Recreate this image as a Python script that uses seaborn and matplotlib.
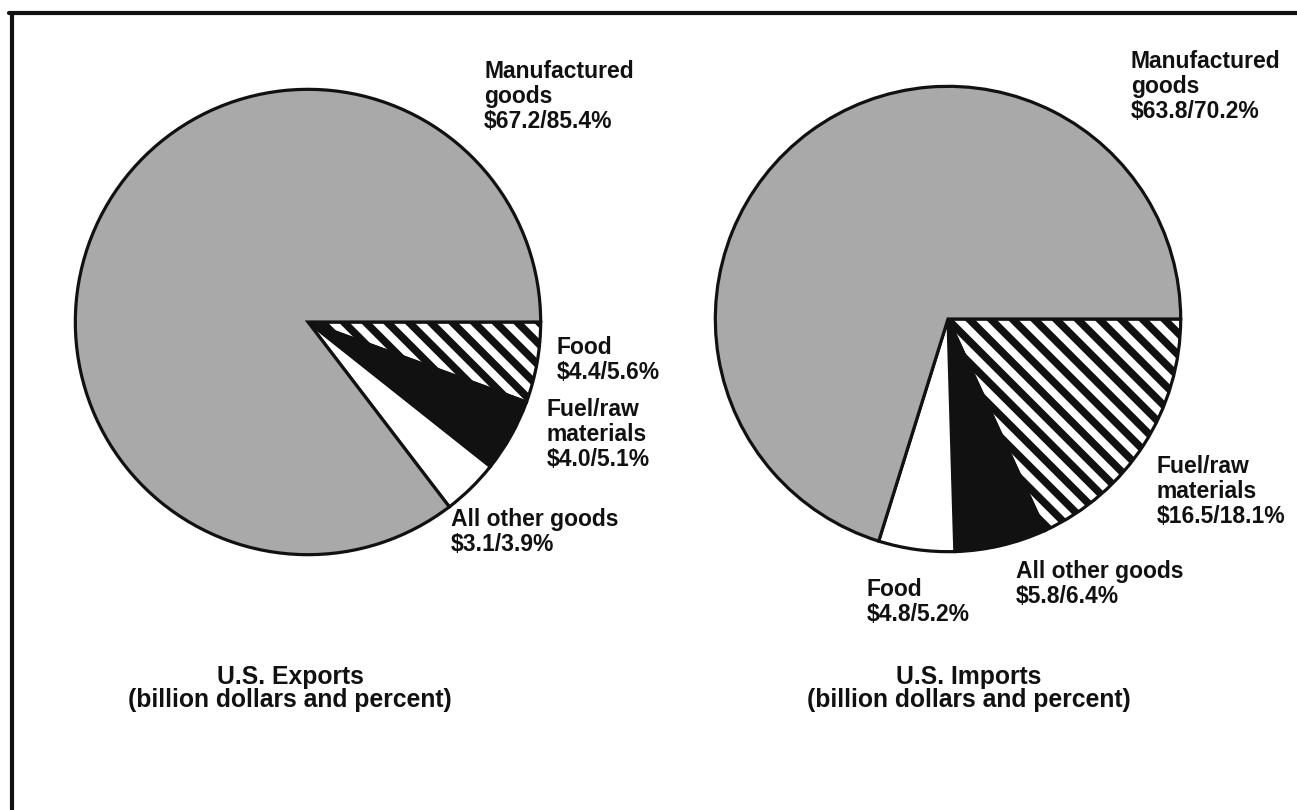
import matplotlib
matplotlib.use("Agg")
import matplotlib.pyplot as plt
import seaborn as sns
from matplotlib.lines import Line2D

W, H = 1297, 810
DPI = 130           # higher dpi gives a coarser hatch, matching the scan's stripe spacing
S = 100 / DPI       # scale so sizes given for 100 dpi stay the same in pixels

sns.set_theme(style="white")
plt.rcParams['font.family'] = ['Liberation Sans', 'DejaVu Sans']
plt.rcParams['hatch.linewidth'] = 4.2

# ---- data ----
export_categories = ["Food", "Fuel/raw materials", "All other goods", "Manufactured goods"]
export_values = [4.4, 4.0, 3.1, 67.2]
export_pcts = [5.6, 5.1, 3.9, 85.4]

import_categories = ["Fuel/raw materials", "All other goods", "Food", "Manufactured goods"]
import_values = [16.5, 5.8, 4.8, 63.8]
import_pcts = [18.1, 6.4, 5.2, 70.2]

titles = ["U.S. Exports\n(billion dollars and percent)",
          "U.S. Imports\n(billion dollars and percent)"]

fig = plt.figure(figsize=(W / DPI, H / DPI), dpi=DPI)
fig.patch.set_facecolor("white")

GRAY = "#a9a9a9"
export_style = {"Food": ("white", "\\\\"), "Fuel/raw materials": ("#111111", None),
                "All other goods": ("white", None), "Manufactured goods": (GRAY, None)}
import_style = {"Fuel/raw materials": ("white", "\\\\"), "All other goods": ("#111111", None),
                "Food": ("white", None), "Manufactured goods": (GRAY, None)}


def add_pie(cx, cy, r, cats, vals, sty):
    ax = fig.add_axes([(cx - r) / W, (H - cy - r) / H, 2 * r / W, 2 * r / H])
    wedges, _ = ax.pie(vals, startangle=0, counterclock=False,
                       colors=[sty[c][0] for c in cats],
                       wedgeprops=dict(edgecolor="#111111", linewidth=2.3 * S))
    for w, c in zip(wedges, cats):
        if sty[c][1]:
            w.set_hatch(sty[c][1])
    ax.set_xlim(-1.01, 1.01)
    ax.set_ylim(-1.01, 1.01)
    ax.set_aspect("equal")
    ax.axis("off")
    return ax


add_pie(308, 322, 235, export_categories, export_values, export_style)
add_pie(948, 319, 235, import_categories, import_values, import_style)


def ftext(x, y, s, **kw):
    fig.text(x / W, 1 - y / H, s, ha=kw.pop("ha", "left"), va=kw.pop("va", "top"),
             fontsize=kw.pop("fontsize", 16.5) * S, fontweight="bold", color="#111111",
             linespacing=kw.pop("linespacing", 1.12), **kw)


def lab(cat, val, pct):
    name = {"Manufactured goods": "Manufactured\ngoods",
            "Fuel/raw materials": "Fuel/raw\nmaterials"}.get(cat, cat)
    return f"{name}\n${val:.1f}/{pct:.1f}%"


# export labels
ftext(484, 60, lab("Manufactured goods", export_values[3], export_pcts[3]))
ftext(557, 336, lab("Food", export_values[0], export_pcts[0]))
ftext(547, 398, lab("Fuel/raw materials", export_values[1], export_pcts[1]))
ftext(451, 508, lab("All other goods", export_values[2], export_pcts[2]))

# import labels
ftext(1131, 50, lab("Manufactured goods", import_values[3], import_pcts[3]))
ftext(1157, 455, lab("Fuel/raw materials", import_values[0], import_pcts[0]))
ftext(1016, 560, lab("All other goods", import_values[1], import_pcts[1]))
ftext(867, 578, lab("Food", import_values[2], import_pcts[2]))

# titles
ftext(290, 665, titles[0], ha="center", fontsize=17.8, linespacing=0.93)
ftext(969, 665, titles[1], ha="center", fontsize=17.8, linespacing=0.93)

# frame (top and left edges)
fig.add_artist(Line2D([9 / W, 1.0], [1 - 13 / H, 1 - 13 / H], transform=fig.transFigure,
                      color="#111111", linewidth=3 * S))
fig.add_artist(Line2D([12 / W, 12 / W], [1 - 13 / H, 0.0], transform=fig.transFigure,
                      color="#111111", linewidth=3 * S))

fig.savefig("out.png", dpi=DPI, facecolor="white")
